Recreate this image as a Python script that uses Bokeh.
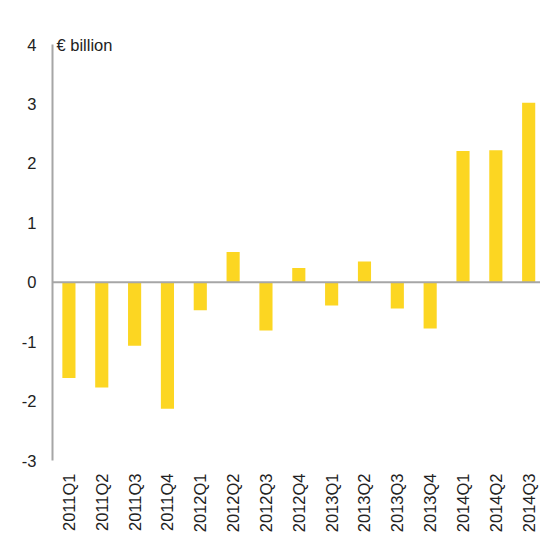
import math
from bokeh.plotting import figure
from bokeh.models import Range1d, FixedTicker, Span, Label
from bokeh.embed import file_html
from bokeh.resources import INLINE

quarters = ["2011Q1", "2011Q2", "2011Q3", "2011Q4", "2012Q1", "2012Q2", "2012Q3", "2012Q4",
            "2013Q1", "2013Q2", "2013Q3", "2013Q4", "2014Q1", "2014Q2", "2014Q3"]
values = [-1.61, -1.77, -1.07, -2.13, -0.47, 0.51, -0.81, 0.24,
          -0.39, 0.35, -0.44, -0.78, 2.21, 2.22, 3.02]
y_ticks = [-3, -2, -1, 0, 1, 2, 3, 4]
unit_label = "€ billion"

FONT = "Liberation Sans"
TXT = "#222222"
GRAY = "#A6A6A6"
BAR = "#FCD622"
FS = "16.5px"

xs = list(range(1, len(quarters) + 1))

p = figure(width=540, height=536, output_backend="svg", toolbar_location=None,
           x_range=Range1d(0.5, 15.36), y_range=Range1d(-3, 4.305),
           min_border_top=26, min_border_left=52, min_border_right=0, min_border_bottom=76)
p.outline_line_color = None
p.xgrid.grid_line_color = None
p.ygrid.grid_line_color = None

p.vbar(x=xs, top=values, bottom=0, width=0.4, fill_color=BAR, line_color=None)

p.add_layout(Span(location=0, dimension="width", line_color=GRAY, line_width=2))

ya = p.yaxis[0]
ya.ticker = FixedTicker(ticks=y_ticks)
ya.bounds = (y_ticks[0], y_ticks[-1])
ya.major_label_overrides = {t: str(t) for t in y_ticks}
ya.axis_line_color = GRAY
ya.axis_line_width = 2
ya.major_tick_line_color = None
ya.minor_tick_line_color = None
ya.major_tick_out = 0
ya.major_tick_in = 0
ya.major_label_standoff = 16
ya.major_label_text_font = FONT
ya.major_label_text_font_size = FS
ya.major_label_text_color = TXT

xa = p.xaxis[0]
xa.ticker = FixedTicker(ticks=xs)
xa.major_label_overrides = {x: q for x, q in zip(xs, quarters)}
xa.axis_line_color = None
xa.major_tick_line_color = None
xa.minor_tick_line_color = None
xa.major_tick_out = 0
xa.major_tick_in = 0
xa.major_label_orientation = math.pi / 2
xa.major_label_standoff = 13
xa.major_label_text_font = FONT
xa.major_label_text_font_size = FS
xa.major_label_text_color = TXT

p.add_layout(Label(x=0.5, y=4, x_offset=4, text=unit_label, text_font=FONT,
                   text_font_size=FS, text_color=TXT, text_baseline="middle"))

open("out.html", "w").write(file_html(p, INLINE))
